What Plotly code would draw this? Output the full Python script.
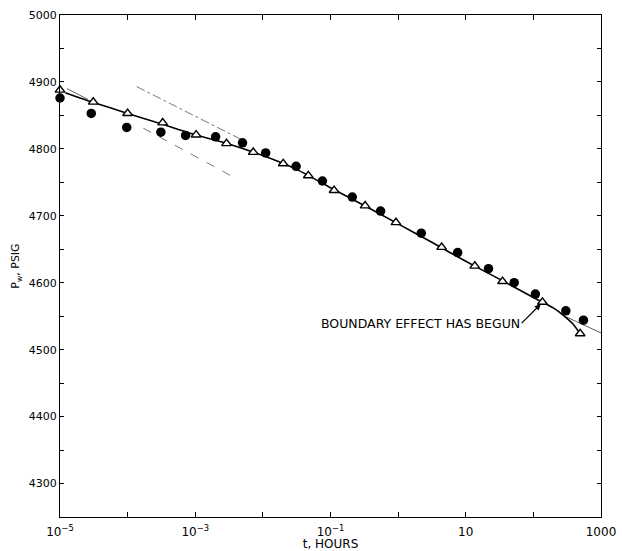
import plotly.graph_objects as go

# ---- data ----
tri_t = [1e-5, 3.1e-5, 1e-4, 3.3e-4, 1.03e-3, 2.9e-3, 7.2e-3, 2.0e-2, 4.7e-2,
         0.113, 0.325, 0.93, 4.4, 13.6, 35, 136, 492]
tri_p = [4888, 4870, 4853, 4839, 4821, 4808, 4795, 4778, 4760,
         4738, 4715, 4690, 4653, 4625, 4602, 4571, 4524]

circ_t = [1e-5, 2.9e-5, 9.7e-5, 3.1e-4, 7.2e-4, 2.0e-3, 5.0e-3, 1.1e-2, 3.1e-2,
          7.6e-2, 0.21, 0.55, 2.2, 7.6, 21.7, 52, 107, 302, 550]
circ_p = [4876, 4853, 4832, 4825, 4820, 4818, 4809, 4794, 4774,
          4752, 4728, 4707, 4674, 4645, 4621, 4600, 4583, 4558, 4544]

curve_t = [1.2e-5, 3.2e-5, 1e-4, 3.2e-4, 1e-3, 3.2e-3, 1e-2, 3.2e-2, 0.1, 0.32,
           1, 3.2, 10, 32, 100, 200, 280, 380, 490]
curve_p = [4884, 4869, 4853, 4837, 4821, 4807, 4790, 4769, 4742, 4715,
           4688, 4660, 4632, 4605, 4578, 4562, 4551, 4539, 4524]

ext_t = [290, 1000]
ext_p = [4550, 4525]

upper_t = [1.36e-4, 5.5e-3]
upper_p = [4893, 4811]

lower_t = [1.7e-4, 3.5e-3]
lower_p = [4831, 4759]

short_t = [1.26e-5, 2.6e-5]
short_p = [4890, 4874]

x_label_vals = [1e-5, 1e-3, 1e-1, 10, 1000]
x_label_text = ["10<sup>−5</sup>", "10<sup>−3</sup>", "10<sup>−1</sup>", "10", "1000"]
x_minor_vals = [1e-4, 1e-2, 1, 100]

annot_text = "BOUNDARY EFFECT HAS BEGUN"

FONT = "DejaVu Sans"

fig = go.Figure()

fig.add_trace(go.Scatter(x=upper_t, y=upper_p, mode="lines",
                         line=dict(color="#555", width=0.8, dash="dashdot"), showlegend=False))
fig.add_trace(go.Scatter(x=lower_t, y=lower_p, mode="lines",
                         line=dict(color="#555", width=0.8, dash="dash"), showlegend=False))
fig.add_trace(go.Scatter(x=short_t, y=short_p, mode="lines",
                         line=dict(color="#444", width=0.8), showlegend=False))
fig.add_trace(go.Scatter(x=ext_t, y=ext_p, mode="lines",
                         line=dict(color="#333", width=0.8), showlegend=False))
fig.add_trace(go.Scatter(x=curve_t, y=curve_p, mode="lines",
                         line=dict(color="black", width=1.6, shape="spline", smoothing=0.6),
                         showlegend=False))
fig.add_trace(go.Scatter(x=circ_t, y=circ_p, mode="markers", cliponaxis=False,
                         marker=dict(symbol="circle", size=9.5, color="black"), showlegend=False))
fig.add_trace(go.Scatter(x=tri_t, y=tri_p, mode="markers", cliponaxis=False,
                         marker=dict(symbol="triangle-up", size=8.5, color="white",
                                     line=dict(color="black", width=1.4)), showlegend=False))

# label with an arrow pointing at the curve where the boundary effect begins
fig.add_annotation(x=2.108, y=4568, xref="x", yref="y", text=annot_text, showarrow=True,
                   ax=-19, ay=19, xanchor="right", yanchor="middle",
                   arrowhead=2, arrowsize=1, arrowwidth=1.2, arrowcolor="black",
                   font=dict(family=FONT, size=12.5, color="black"))

fig.update_xaxes(type="log", range=[-5, 3], tickvals=x_label_vals, ticktext=x_label_text,
                 ticks="inside", ticklen=5, tickcolor="black", tickwidth=1,
                 minor=dict(tickvals=x_minor_vals, ticks="inside", ticklen=5, tickcolor="black"),
                 showline=True, linecolor="black", linewidth=1.3, mirror="ticks",
                 showgrid=False, zeroline=False, ticklabelstandoff=3, automargin=False,
                 tickfont=dict(family=FONT, size=12, color="black"),
                 title=dict(text="t, HOURS", font=dict(family=FONT, size=12, color="black"),
                            standoff=3))
fig.update_yaxes(range=[4250, 5000], dtick=100, tick0=0,
                 ticks="inside", ticklen=4, tickcolor="black", tickwidth=1,
                 minor=dict(dtick=50, ticks="inside", ticklen=4, tickcolor="black"),
                 showline=True, linecolor="black", linewidth=1.3, mirror="ticks",
                 showgrid=False, zeroline=False, automargin=False,
                 tickfont=dict(family=FONT, size=11, color="black"),
                 title=dict(text="P<sub>w</sub>, PSIG", font=dict(family=FONT, size=11, color="black"),
                            standoff=6))

fig.update_layout(width=622, height=551, margin=dict(l=60, r=21, t=15, b=34),
                  plot_bgcolor="white", paper_bgcolor="white")

fig.write_html("out.html")
